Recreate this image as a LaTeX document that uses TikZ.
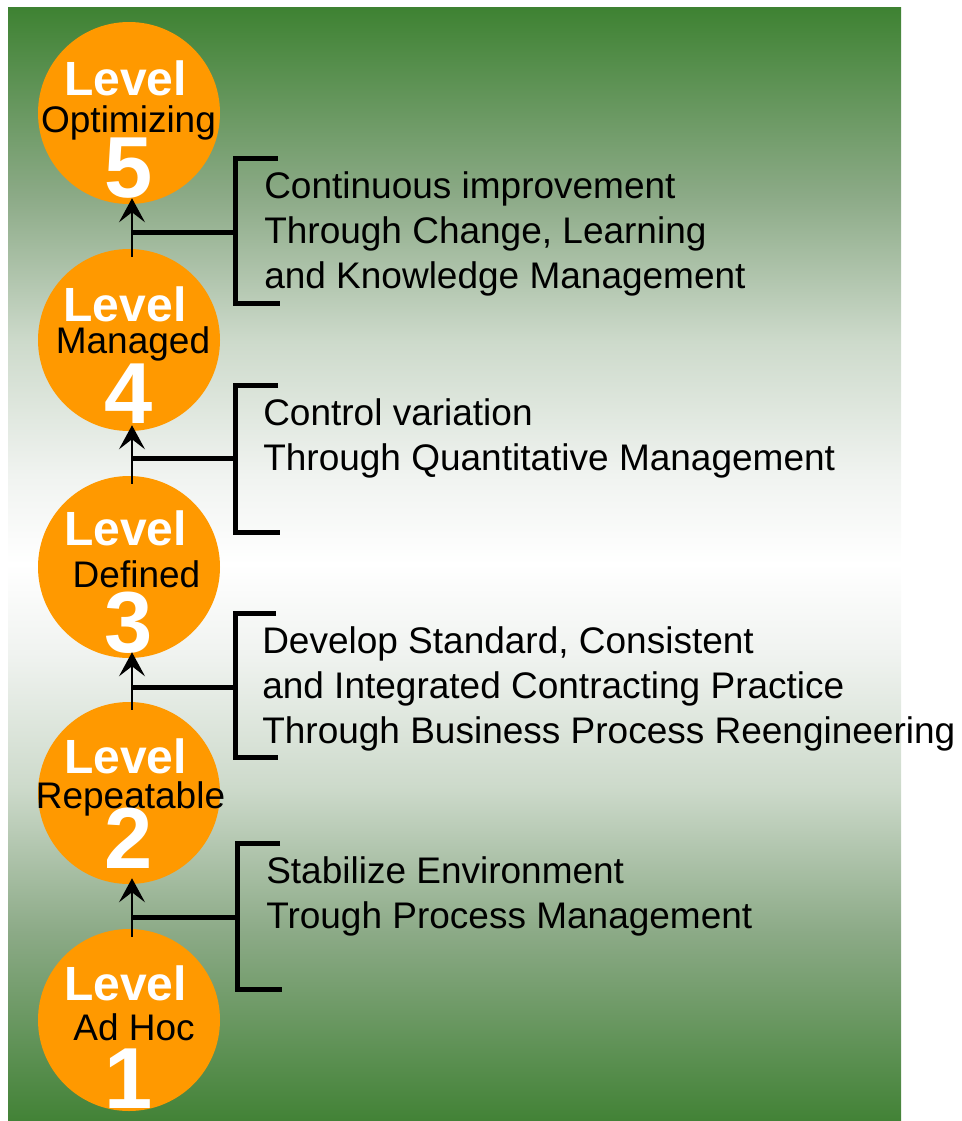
\documentclass[tikz,border=0pt]{standalone}
\usepackage{fontspec}
\setmainfont{Liberation Sans}
\usetikzlibrary{arrows.meta}
\definecolor{lvorange}{RGB}{255,153,0}

% green at both ends, fading through grey-green to white at the middle
\pgfdeclareverticalshading{bgfade}{100bp}{%
  rgb(0bp)=(0.259,0.510,0.212);
  rgb(25bp)=(0.259,0.510,0.212);
  rgb(33.5bp)=(0.549,0.667,0.529);
  rgb(40bp)=(0.804,0.855,0.796);
  rgb(46bp)=(0.941,0.953,0.941);
  rgb(50bp)=(1,1,1);
  rgb(54bp)=(0.941,0.953,0.941);
  rgb(60bp)=(0.804,0.855,0.796);
  rgb(66.5bp)=(0.549,0.667,0.529);
  rgb(75bp)=(0.243,0.510,0.196);
  rgb(100bp)=(0.243,0.510,0.196)}

\tikzset{
  levelcircle/.style={circle, fill=lvorange, draw=none, minimum size=136.5pt, inner sep=0pt},
  lvword/.style={anchor=base, inner sep=0pt, text=white, font=\fontsize{36}{36}\selectfont\bfseries},
  lvname/.style={anchor=base, inner sep=0pt, text=black, font=\fontsize{27.75}{30}\selectfont},
  lvdigit/.style={anchor=base, inner sep=0pt, text=white, font=\fontsize{65}{65}\selectfont\bfseries},
  uparrow/.style={draw=black, line width=1.5pt, -{Stealth[length=18pt, width=19.5pt, inset=7.5pt]}},
  hookline/.style={draw=black, line width=3.75pt},
  bracketline/.style={draw=black, line width=3.75pt, line join=miter},
  % anchored at the baseline of the last line
  desc/.style={anchor=base west, inner sep=0pt, align=left, text=black,
               font=\fontsize{27.75}{33.75}\selectfont},
}

\begin{document}
\begin{tikzpicture}[x=0.75pt, y=-0.75pt]
\useasboundingbox (0,0) rectangle (961,1121);

% background panel
\shade[shading=bgfade] (8,7) rectangle (901,1121);

% maturity levels
\node[levelcircle] (c5) at (129,113) {};
\node[levelcircle] (c4) at (129,340) {};
\node[levelcircle] (c3) at (129,567) {};
\node[levelcircle] (c2) at (129,793) {};
\node[levelcircle] (c1) at (129,1020) {};

% labels inside the circles
\node[lvword]  (w5) at (125.5,95)  {Level};
\node[lvname]  (n5) at (128.5,132) {Optimizing};
\node[lvdigit] (d5) at (129,197)   {5};

\node[lvword]  (w4) at (125,321)   {Level};
\node[lvname]  (n4) at (133,353)   {Managed};
\node[lvdigit] (d4) at (129,423)   {4};

\node[lvword]  (w3) at (125.5,545) {Level};
\node[lvname]  (n3) at (136.5,587) {Defined};
\node[lvdigit] (d3) at (129,652)   {3};

\node[lvword]  (w2) at (125.5,773) {Level};
\node[lvname]  (n2) at (130.5,808) {Repeatable};
\node[lvdigit] (d2) at (129,868)   {2};

\node[lvword]  (w1) at (125.5,1000) {Level};
\node[lvname]  (n1) at (134,1040)   {Ad Hoc};
\node[lvdigit] (d1) at (129,1108)   {1};

% arrows between consecutive levels
\draw[uparrow] ([xshift=2.25pt, yshift=-6pt]c4.north) -- ([xshift=2.25pt, yshift=4.5pt]c5.south);
\draw[uparrow] ([xshift=2.25pt, yshift=-6pt]c3.north) -- ([xshift=2.25pt, yshift=4.5pt]c4.south);
\draw[uparrow] ([xshift=2.25pt, yshift=-6pt]c2.north) -- ([xshift=2.25pt, yshift=4.5pt]c3.south);
\draw[uparrow] ([xshift=2.25pt, yshift=-6pt]c1.north) -- ([xshift=2.25pt, yshift=4.5pt]c2.south);

% junctions on the arrows and bracket midpoints
\coordinate (j5) at (132,232);  \coordinate (b5) at (235,232);
\coordinate (j4) at (132,458);  \coordinate (b4) at (235,458);
\coordinate (j3) at (132,687);  \coordinate (b3) at (235,687);
\coordinate (j2) at (132,917);  \coordinate (b2) at (237,917);

\draw[hookline] (j5) -- (b5);
\draw[hookline] (j4) -- (b4);
\draw[hookline] (j3) -- (b3);
\draw[hookline] (j2) -- (b2);

% brackets
\draw[bracketline] (278,158) -- (235,158) -- (235,303) -- (280,303);
\draw[bracketline] (278,385) -- (235,385) -- (235,532) -- (280,532);
\draw[bracketline] (276,613) -- (235,613) -- (235,757) -- (278,757);
\draw[bracketline] (280,843) -- (237,843) -- (237,989) -- (282,989);

% descriptions
\node[desc] (t5) at (264,288) {Continuous improvement\\Through Change, Learning\\and Knowledge Management};
\node[desc] (t4) at (263,470) {Control variation\\Through Quantitative Management};
\node[desc] (t3) at (262,743) {Develop Standard, Consistent\\and Integrated Contracting Practice\\Through Business Process Reengineering};
\node[desc] (t2) at (266,928) {Stabilize Environment\\Trough Process Management};
\end{tikzpicture}
\end{document}
